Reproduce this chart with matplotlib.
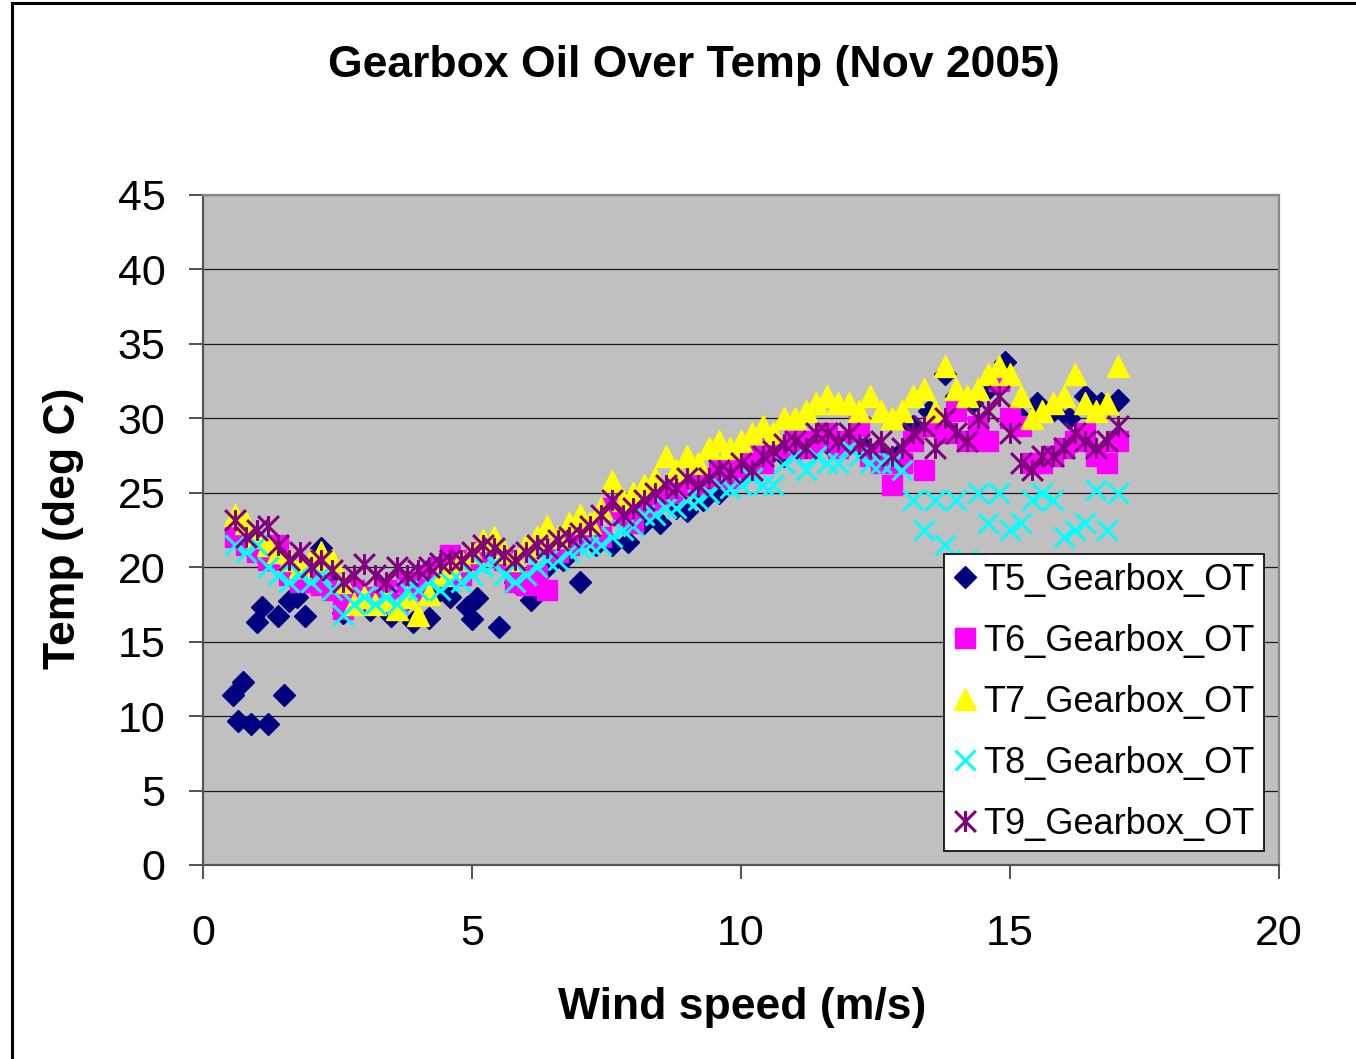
# Gearbox oil temperature vs wind speed, Nov 2005

import matplotlib
matplotlib.use('Agg')
import matplotlib.pyplot as plt
from matplotlib.path import Path
from matplotlib.lines import Line2D

plt.rcParams['font.family'] = ['Liberation Sans', 'DejaVu Sans']

# wind speed bins (m/s) shared by T6..T9
wind = [0.6, 0.8, 1.0, 1.2, 1.4, 1.6, 1.8, 2.0, 2.2, 2.4,
        2.6, 2.8, 3.0, 3.2, 3.4, 3.6, 3.8, 4.0, 4.2, 4.4,
        4.6, 4.8, 5.0, 5.2, 5.4, 5.6, 5.8, 6.0, 6.2, 6.4,
        6.6, 6.8, 7.0, 7.2, 7.4, 7.6, 7.8, 8.0, 8.2, 8.4,
        8.6, 8.8, 9.0, 9.2, 9.4, 9.6, 9.8, 10.0, 10.2, 10.4,
        10.6, 10.8, 11.0, 11.2, 11.4, 11.6, 11.8, 12.0, 12.2, 12.4,
        12.6, 12.8, 13.0, 13.2, 13.4, 13.6, 13.8, 14.0, 14.2, 14.4,
        14.6, 14.8, 15.0, 15.2, 15.4, 15.6, 15.8, 16.0, 16.2, 16.4,
        16.6, 16.8, 17.0]

# T5 has its own wind speeds
wind_t5 = [0.55, 0.65, 0.75, 0.9, 1.0, 1.1, 1.2, 1.4, 1.5, 1.6,
           1.75, 1.9, 2.0, 2.2, 2.4, 2.6, 2.8, 3.1, 3.3, 3.5,
           3.7, 3.9, 4.2, 4.4, 4.6, 4.9, 5.0, 5.1, 5.5, 5.8,
           6.1, 6.4, 6.7, 7.0, 7.3, 7.6, 7.9, 8.2, 8.5, 8.8,
           9.0, 9.3, 9.6, 9.9, 10.2, 10.5, 10.8, 11.1, 11.4, 11.7,
           12.0, 12.3, 12.6, 12.9, 13.2, 13.5, 13.8, 14.0, 14.3, 14.6,
           14.9, 15.2, 15.5, 15.8, 16.1, 16.4, 16.7, 17.0]
t5 = [11.4, 9.7, 12.3, 9.5, 16.3, 17.3, 9.5, 16.7, 11.4, 17.7,
      18.0, 16.7, 19.5, 21.3, 19.0, 16.9, 18.0, 17.1, 18.0, 16.7,
      17.5, 16.3, 16.6, 18.5, 18.0, 17.3, 16.5, 17.9, 16.0, 19.0,
      17.8, 20.0, 20.5, 19.0, 21.5, 21.5, 21.7, 23.0, 23.0, 24.0,
      23.8, 24.5, 25.0, 26.0, 27.0, 27.5, 27.5, 28.0, 28.5, 28.0,
      28.5, 28.0, 27.5, 27.5, 29.5, 30.5, 33.0, 31.5, 31.0, 32.0,
      33.8, 30.0, 31.0, 30.5, 30.0, 31.5, 31.0, 31.2]

t6 = [22.0, 21.5, 21.0, 20.5, 21.5, 19.5, 19.0, 19.0, 18.8, 18.5,
      17.2, 18.5, 18.0, 17.5, 18.5, 17.5, 19.0, 18.5, 19.5, 20.0,
      20.8, 19.5, 20.5, 21.0, 21.0, 20.5, 19.0, 18.8, 19.5, 18.5,
      21.0, 21.5, 22.0, 22.5, 22.0, 24.0, 23.5, 23.0, 24.0, 24.5,
      25.0, 25.0, 25.5, 25.5, 26.0, 26.5, 26.0, 26.5, 27.5, 27.0,
      28.0, 28.0, 28.5, 28.0, 28.5, 29.0, 28.0, 28.5, 29.5, 27.5,
      27.0, 25.5, 27.0, 28.5, 26.5, 29.5, 29.0, 30.5, 28.5, 29.5,
      28.5, 32.5, 30.0, 29.5, 27.0, 27.0, 27.5, 28.0, 28.5, 29.0,
      27.5, 27.0, 28.5]

t7 = [23.5, 23.0, 22.0, 21.5, 21.0, 20.5, 20.0, 20.5, 21.0, 20.5,
      19.0, 17.5, 18.0, 17.5, 17.8, 17.2, 18.0, 16.8, 18.2, 19.5,
      20.0, 20.5, 21.0, 21.8, 22.0, 21.0, 20.5, 21.5, 22.0, 22.8,
      22.0, 23.0, 23.5, 23.0, 24.0, 25.8, 24.5, 25.0, 25.5, 26.0,
      27.5, 26.5, 27.5, 27.0, 28.0, 28.5, 28.0, 28.5, 29.0, 29.5,
      29.0, 30.0, 30.0, 30.5, 31.0, 31.5, 31.0, 31.0, 30.5, 31.5,
      30.5, 30.0, 30.5, 31.5, 32.0, 30.5, 33.5, 32.0, 31.5, 32.0,
      33.0, 33.5, 33.0, 31.5, 30.0, 30.5, 31.0, 31.5, 33.0, 31.0,
      30.5, 31.0, 33.5]

t8 = [21.5, 21.0, 21.5, 20.0, 19.5, 19.0, 19.5, 19.0, 19.5, 18.5,
      16.8, 17.5, 18.0, 17.5, 18.0, 17.5, 18.5, 18.5, 19.0, 18.5,
      19.0, 19.0, 19.5, 20.0, 20.3, 19.5, 19.0, 19.5, 20.0, 20.5,
      20.5, 21.0, 21.3, 21.5, 21.5, 22.0, 22.5, 22.8, 23.5, 23.5,
      24.0, 24.0, 24.5, 24.5, 25.0, 25.5, 25.3, 25.5, 26.0, 25.5,
      25.5, 27.0, 27.5, 26.5, 27.5, 27.0, 27.0, 28.0, 27.5, 27.0,
      27.0, 27.0, 26.5, 24.5, 22.5, 24.5, 21.5, 24.5, 20.5, 25.0,
      23.0, 25.0, 22.5, 23.0, 24.5, 25.0, 24.5, 22.0, 22.5, 23.0,
      25.2, 22.5, 25.0]

t9 = [23.2, 22.0, 22.5, 22.8, 21.5, 20.5, 21.0, 20.0, 20.5, 19.8,
      19.0, 19.5, 20.2, 19.5, 19.0, 20.0, 19.5, 19.8, 20.0, 20.3,
      20.5, 20.5, 21.0, 21.5, 21.3, 20.8, 20.5, 21.0, 21.5, 21.3,
      21.8, 22.0, 22.3, 22.8, 23.5, 24.5, 23.5, 24.0, 24.5, 25.0,
      25.5, 25.3, 26.0, 25.5, 26.0, 26.5, 26.3, 27.0, 26.5, 27.5,
      27.8, 28.3, 28.5, 28.0, 29.0, 29.0, 28.5, 29.0, 28.3, 28.0,
      28.5, 27.5, 28.0, 29.0, 29.5, 28.0, 30.0, 29.0, 28.5, 30.0,
      30.5, 31.5, 29.0, 27.0, 26.5, 27.5, 27.5, 28.0, 29.0, 28.5,
      28.0, 28.5, 29.5]

labels = ['T5_Gearbox_OT', 'T6_Gearbox_OT', 'T7_Gearbox_OT',
          'T8_Gearbox_OT', 'T9_Gearbox_OT']

# excel style star: an x with a vertical bar
star = Path([(-1, -1), (1, 1), (-1, 1), (1, -1), (0, -1), (0, 1)],
            [Path.MOVETO, Path.LINETO] * 3)

fig = plt.figure(figsize=(13.56, 10.59), dpi=100)
ax = fig.add_axes([203/1356, 1 - 865/1059, 1076/1356, 670/1059])
ax.set_facecolor('#C0C0C0')

ax.plot(wind_t5, t5, ls='none', marker='D', ms=11.5, color='#000080', mec='#000080', label=labels[0])
ax.plot(wind, t6, ls='none', marker='s', ms=14.5, color='#FF00FF', mec='#FF00FF', label=labels[1])
ax.plot(wind, t7, ls='none', marker='^', ms=15.5, color='#FFFF00', mec='#FFFF00', label=labels[2])
ax.plot(wind, t8, ls='none', marker='x', ms=14.5, mew=2.2, color='#00FFFF', label=labels[3])
ax.plot(wind, t9, ls='none', marker=star, ms=15, mew=2.2, mfc='none', color='#800080', label=labels[4])

ax.set_xlim(0, 20)
ax.set_ylim(0, 45)
ax.set_xticks([0, 5, 10, 15, 20])
ax.set_yticks(range(0, 46, 5))
ax.yaxis.grid(True, color='#1a1a1a', lw=0.9)
ax.set_axisbelow(True)
ax.tick_params(axis='both', direction='out', length=10, width=1.2, labelsize=31, color='#333333')
ax.tick_params(axis='x', pad=25)
ax.tick_params(axis='y', pad=17)

for side in ['top', 'right']:
    ax.spines[side].set_color('#888888')
    ax.spines[side].set_linewidth(1.6)
for side in ['left', 'bottom']:
    ax.spines[side].set_color('#555555')
    ax.spines[side].set_linewidth(1.6)

leg = ax.legend(loc='lower right', bbox_to_anchor=(0.986, 0.021), fontsize=26,
                frameon=True, fancybox=False, framealpha=1, edgecolor='black',
                handlelength=0.7, handletextpad=0.15, borderpad=0.25,
                labelspacing=0.72, borderaxespad=0)
leg.get_frame().set_linewidth(1.2)
leg.set_zorder(10)

fig.text(694/1356, 1 - 65/1059, 'Gearbox Oil Over Temp (Nov 2005)', fontsize=32,
         fontweight='bold', ha='center', va='center')
fig.text(742/1356, 1 - 1008/1059, 'Wind speed (m/s)', fontsize=32,
         fontweight='bold', ha='center', va='center')
fig.text(63/1356, 1 - 528/1059, 'Temp (deg C)', fontsize=32, fontweight='bold',
         ha='center', va='center', rotation=90)

# outer chart frame (top and left edges visible)
fig.add_artist(Line2D([12/1356, 1], [1 - 3/1059, 1 - 3/1059], transform=fig.transFigure,
                      color='black', lw=2.2))
fig.add_artist(Line2D([12/1356, 12/1356], [0, 1 - 3/1059], transform=fig.transFigure,
                      color='black', lw=2.2))

plt.savefig('out.png', dpi=100)
